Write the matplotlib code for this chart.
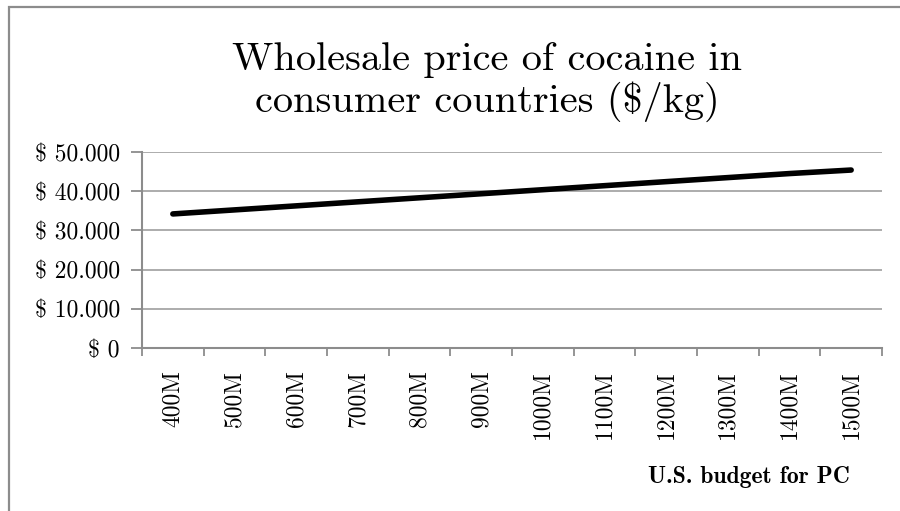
import matplotlib
matplotlib.use("Agg")
import matplotlib.pyplot as plt
from matplotlib.patches import Rectangle
import numpy as np

categories = ["400M", "500M", "600M", "700M", "800M", "900M", "1000M",
              "1100M", "1200M", "1300M", "1400M", "1500M"]
prices = [34200, 35230, 36260, 37290, 38320, 39350, 40380,
          41410, 42440, 43470, 44500, 45400]
yticks = [0, 10000, 20000, 30000, 40000, 50000]
ytick_labels = ["$ 0", "$ 10.000", "$ 20.000", "$ 30.000", "$ 40.000", "$ 50.000"]
title = "Wholesale price of cocaine in\nconsumer countries ($/kg)"
xlabel = "U.S. budget for PC"

W, H = 900, 511
fig = plt.figure(figsize=(9, 5.11), dpi=100)
fig.patch.set_facecolor("white")

# outer frame
fig.add_artist(Rectangle((8.5 / W, -0.1), 1.2, (511 - 6.5) / H + 0.1,
                         transform=fig.transFigure, fill=False,
                         edgecolor="#8c8c8c", linewidth=1.6))

ax = fig.add_axes([142 / W, 1 - 348 / H, (882 - 142) / W, (348 - 152) / H])
x = np.arange(len(categories))
ax.plot(x, prices, color="black", linewidth=4, solid_capstyle="round")

ax.set_xlim(-0.5, len(categories) - 0.5)
ax.set_ylim(0, 50000)

grid_c = "#a6a6a6"
for s in ["top", "right"]:
    ax.spines[s].set_visible(False)
for s in ["left", "bottom"]:
    ax.spines[s].set_color("#8c8c8c")
    ax.spines[s].set_linewidth(1.5)

ax.set_yticks(yticks)
ax.set_yticklabels(ytick_labels, family="cmr10", fontsize=17)
ax.yaxis.grid(True, color=grid_c, linewidth=1.3)
ax.tick_params(axis="y", length=8, width=1.3, color="#8c8c8c", pad=8)

ax.set_xticks(np.arange(-0.5, len(categories), 1.0))
ax.set_xticklabels([])
ax.set_xticks(x, minor=True)
ax.set_xticklabels(categories, minor=True, rotation=90, family="cmr10",
                   fontsize=17, va="top")
ax.tick_params(axis="x", which="minor", length=0, pad=16)
ax.tick_params(axis="x", which="major", length=6, width=1.3, color="#8c8c8c")
ax.set_axisbelow(True)

fig.text(487 / W, 1 - 82 / H, title, ha="center", va="center",
         family="cmr10", fontsize=29, linespacing=1.1)
fig.text(749 / W, 1 - 477 / H, xlabel, ha="center", va="center",
         family="cmb10", fontsize=17)

fig.savefig("out.png", dpi=100)
